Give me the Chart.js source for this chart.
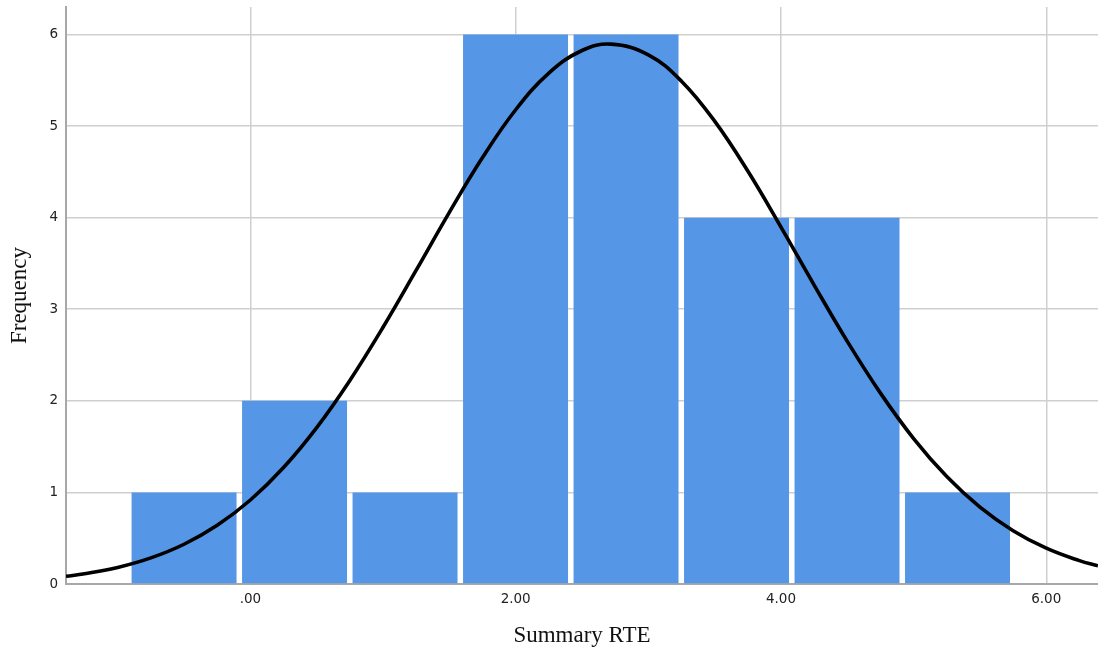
<!DOCTYPE html>
<html>
<head>
<meta charset="utf-8">
<script src="https://cdn.jsdelivr.net/npm/chart.js@4.4.1/dist/chart.umd.min.js"></script>
<style>
  html, body { margin: 0; padding: 0; background: #ffffff; }
  #wrap { width: 1098px; height: 655px; }
</style>
</head>
<body>
<div id="wrap"><canvas id="hist" width="1098" height="655"></canvas></div>
<script>
// Histogram bins (centres) and their frequencies
const binCenters  = [-0.50, 0.333, 1.166, 1.999, 2.832, 3.665, 4.498, 5.331];
const frequencies = [1, 2, 1, 6, 6, 4, 4, 1];

// Fitted normal curve, sampled along the x range
const curveX = [-1.39, -1.25, -1.00, -0.75, -0.50, -0.25, 0.00, 0.25, 0.50, 0.75,
                1.00, 1.25, 1.50, 1.75, 2.00, 2.25, 2.50, 2.72, 3.00, 3.25,
                3.50, 3.75, 4.00, 4.25, 4.50, 4.75, 5.00, 5.25, 5.50, 5.75,
                6.00, 6.25, 6.39];
const curveY = [0.084, 0.112, 0.181, 0.285, 0.434, 0.641, 0.917, 1.272, 1.708, 2.223,
                2.803, 3.426, 4.058, 4.656, 5.178, 5.578, 5.825, 5.895, 5.778, 5.490,
                5.054, 4.509, 3.897, 3.264, 2.649, 2.084, 1.588, 1.173, 0.839, 0.582,
                0.391, 0.255, 0.198];

// Axis ticks
const xTickValues = [0, 2, 4, 6];
const xTickLabels = ['.00', '2.00', '4.00', '6.00'];
const yTickValues = [0, 1, 2, 3, 4, 5, 6];
const yTickLabels = ['0', '1', '2', '3', '4', '5', '6'];

const barData = binCenters.map((x, i) => ({ x: x, y: frequencies[i] }));
const curveData = curveX.map((x, i) => ({ x: x, y: curveY[i] }));

const tickFont = { family: 'DejaVu Sans', size: 13.5 };
const titleFont = { family: 'Liberation Serif', size: 23 };

new Chart(document.getElementById('hist'), {
  type: 'bar',
  data: {
    datasets: [
      {
        type: 'line',
        data: curveData,
        borderColor: '#000000',
        borderWidth: 3.6,
        pointRadius: 0,
        tension: 0.4,
        fill: false,
        order: 0
      },
      {
        type: 'bar',
        data: barData,
        backgroundColor: '#5596E6',
        borderWidth: 0,
        barPercentage: 0.95,
        categoryPercentage: 1.0,
        order: 1
      }
    ]
  },
  options: {
    responsive: false,
    animation: false,
    devicePixelRatio: 1,
    layout: { autoPadding: false, padding: { top: 7, right: 0, bottom: 0, left: 0 } },
    plugins: {
      legend: { display: false },
      tooltip: { enabled: false }
    },
    scales: {
      x: {
        type: 'linear',
        min: -1.39,
        max: 6.39,
        offset: false,
        afterBuildTicks: (s) => { s.ticks = xTickValues.map(v => ({ value: v })); },
        afterFit: (s) => { s.height = 71; s.paddingLeft = 0; s.paddingRight = 0; },
        ticks: {
          font: tickFont,
          color: '#222222',
          padding: 7,
          maxRotation: 0,
          callback: (v) => xTickLabels[xTickValues.indexOf(v)]
        },
        grid: { color: '#cfcfcf', lineWidth: 1.5, drawTicks: false, offset: false },
        border: { color: '#a8a8a8', width: 2 },
        title: {
          display: true,
          text: 'Summary RTE',
          font: titleFont,
          color: '#111111',
          padding: { top: 0, bottom: 5 }
        }
      },
      y: {
        type: 'linear',
        min: 0,
        max: 6.3,
        afterBuildTicks: (s) => { s.ticks = yTickValues.map(v => ({ value: v })); },
        afterFit: (s) => { s.width = 66; s.paddingTop = 0; s.paddingBottom = 0; },
        ticks: {
          font: tickFont,
          color: '#222222',
          padding: 8,
          callback: (v) => yTickLabels[yTickValues.indexOf(v)]
        },
        grid: { color: '#cfcfcf', lineWidth: 1.5, drawTicks: false },
        border: { color: '#a8a8a8', width: 2 },
        title: {
          display: true,
          text: 'Frequency',
          font: titleFont,
          color: '#111111',
          padding: { top: 6, bottom: 0 }
        }
      }
    }
  }
});
</script>
</body>
</html>
